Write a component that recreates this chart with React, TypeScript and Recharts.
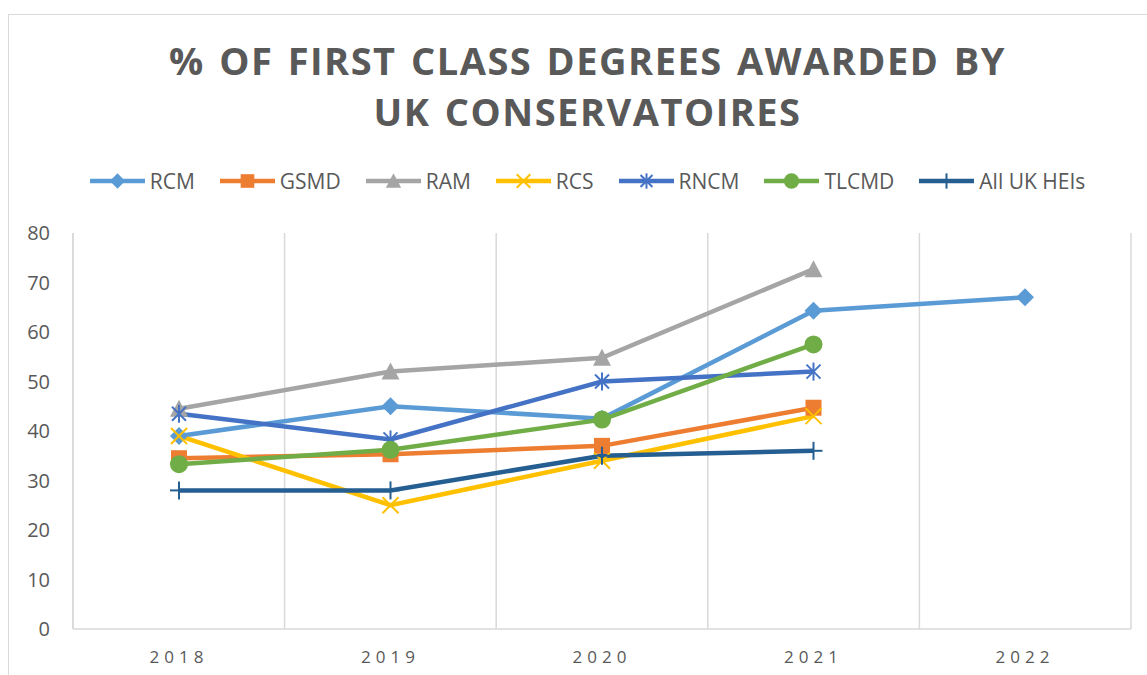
import React from 'react';
import { LineChart, Line, XAxis, YAxis, CartesianGrid, Legend } from 'recharts';

const years = ['2018', '2019', '2020', '2021', '2022'];
const rcm = [39, 45, 42.5, 64.3, 67];
const gsmd = [34.5, 35.3, 37, 44.7, null];
const ram = [44.5, 52, 54.8, 72.7, null];
const rcs = [39, 25, 34, 43, null];
const rncm = [43.5, 38.3, 50, 52, null];
const tlcmd = [33.3, 36.2, 42.3, 57.5, null];
const allUk = [28, 28, 35, 36, null];
const yTicks = [0, 10, 20, 30, 40, 50, 60, 70, 80];

const FONT = '"Open Sans", sans-serif';
const TEXT = '#595959';
const GRID = '#D9D9D9';

type Shape = 'diamond' | 'square' | 'triangle' | 'x' | 'star' | 'circle' | 'plus';

const series: { key: string; name: string; color: string; shape: Shape; values: (number | null)[] }[] = [
  { key: 'rcm', name: 'RCM', color: '#5B9BD5', shape: 'diamond', values: rcm },
  { key: 'gsmd', name: 'GSMD', color: '#ED7D31', shape: 'square', values: gsmd },
  { key: 'ram', name: 'RAM', color: '#A5A5A5', shape: 'triangle', values: ram },
  { key: 'rcs', name: 'RCS', color: '#FFC000', shape: 'x', values: rcs },
  { key: 'rncm', name: 'RNCM', color: '#4472C4', shape: 'star', values: rncm },
  { key: 'tlcmd', name: 'TLCMD', color: '#70AD47', shape: 'circle', values: tlcmd },
  { key: 'allUk', name: 'All UK HEIs', color: '#255E91', shape: 'plus', values: allUk },
];

const data = years.map((year, i) => {
  const row: Record<string, string | number | null> = { year };
  series.forEach((s) => {
    row[s.key] = s.values[i];
  });
  return row;
});

function Marker({ cx, cy, shape, color, k = 1 }: { cx: number; cy: number; shape: Shape; color: string; k?: number }) {
  const a = 9 * k;
  switch (shape) {
    case 'diamond':
      return <polygon points={`${cx},${cy - a} ${cx + a},${cy} ${cx},${cy + a} ${cx - a},${cy}`} fill={color} />;
    case 'square':
      return <rect x={cx - 8 * k} y={cy - 8 * k} width={16 * k} height={16 * k} fill={color} />;
    case 'triangle':
      return <polygon points={`${cx},${cy - a} ${cx + a},${cy + 8 * k} ${cx - a},${cy + 8 * k}`} fill={color} />;
    case 'x':
      return (
        <g stroke={color} strokeWidth={2}>
          <line x1={cx - 8 * k} y1={cy - 8 * k} x2={cx + 8 * k} y2={cy + 8 * k} />
          <line x1={cx - 8 * k} y1={cy + 8 * k} x2={cx + 8 * k} y2={cy - 8 * k} />
        </g>
      );
    case 'star':
      return (
        <g stroke={color} strokeWidth={2}>
          <line x1={cx - 7 * k} y1={cy - 7 * k} x2={cx + 7 * k} y2={cy + 7 * k} />
          <line x1={cx - 7 * k} y1={cy + 7 * k} x2={cx + 7 * k} y2={cy - 7 * k} />
          <line x1={cx} y1={cy - a} x2={cx} y2={cy + a} />
        </g>
      );
    case 'circle':
      return <circle cx={cx} cy={cy} r={a} fill={color} />;
    case 'plus':
      return (
        <g stroke={color} strokeWidth={2}>
          <line x1={cx} y1={cy - a} x2={cx} y2={cy + a} />
          <line x1={cx - a} y1={cy} x2={cx + a} y2={cy} />
        </g>
      );
  }
  return null;
}

const makeDot = (shape: Shape, color: string) => (props: any) => {
  const { cx, cy, index } = props;
  if (cx == null || cy == null || props.value == null) return <g key={`d-${index}`} />;
  return (
    <g key={`d-${index}`}>
      <Marker cx={cx} cy={cy} shape={shape} color={color} />
    </g>
  );
};

const LegendContent = () => (
  <div
    style={{
      height: 30,
      display: 'flex',
      justifyContent: 'center',
      alignItems: 'center',
      gap: 25,
      paddingLeft: 19,
      fontFamily: FONT,
      fontSize: 21,
      color: TEXT,
    }}
  >
    {series.map((s) => (
      <div key={s.key} style={{ display: 'flex', alignItems: 'center' }}>
        <svg width={55} height={22} style={{ marginRight: 5 }}>
          <line x1={0} y1={11} x2={55} y2={11} stroke={s.color} strokeWidth={4.5} />
          <Marker cx={27.5} cy={11} shape={s.shape} color={s.color} k={0.85} />
        </svg>
        <span>{s.name}</span>
      </div>
    ))}
  </div>
);

const App: React.FC = () => {
  return (
    <div style={{ position: 'relative', paddingTop: 14, paddingLeft: 8, width: 1139 }}>
      <style>{'body { margin: 0; }'}</style>
      <div style={{ borderTop: `1px solid ${GRID}`, borderLeft: `1px solid ${GRID}`, width: 1138 }}>
        <LineChart
          width={1138}
          height={660}
          data={data}
          margin={{ top: 188, right: 16, bottom: 16, left: 14 }}
        >
          <CartesianGrid
            horizontal={false}
            stroke={GRID}
            strokeWidth={1.5}
            verticalCoordinatesGenerator={({ offset }: any) =>
              years.concat('end').map((_, i) => offset.left + (i * offset.width) / years.length)
            }
          />
          <XAxis
            dataKey="year"
            padding={{ left: 106, right: 106 }}
            tickLine={false}
            tickSize={0}
            tickMargin={22}
            axisLine={{ stroke: GRID, strokeWidth: 1.5 }}
            tick={{ fill: TEXT, fontSize: 17, fontFamily: FONT, letterSpacing: 5 }}
          />
          <YAxis
            width={50}
            domain={[0, 80]}
            ticks={yTicks}
            tickLine={false}
            tickSize={0}
            tickMargin={23}
            axisLine={{ stroke: GRID, strokeWidth: 1.5 }}
            tick={{ fill: TEXT, fontSize: 20, fontFamily: FONT }}
          />
          <Legend
            verticalAlign="top"
            content={<LegendContent />}
            wrapperStyle={{ top: 151, left: 0, width: 1138 }}
          />
          {series.map((s) => (
            <Line
              key={s.key}
              dataKey={s.key}
              name={s.name}
              stroke={s.color}
              strokeWidth={4.5}
              type="linear"
              dot={makeDot(s.shape, s.color)}
              activeDot={false}
              isAnimationActive={false}
            />
          ))}
        </LineChart>
      </div>
      <div
        style={{
          position: 'absolute',
          top: 35,
          left: 28,
          right: 0,
          textAlign: 'center',
          fontFamily: FONT,
          fontWeight: 700,
          fontSize: 38,
          lineHeight: '51px',
          letterSpacing: 1.5,
          wordSpacing: 3,
          color: TEXT,
        }}
      >
        <div>% OF FIRST CLASS DEGREES AWARDED BY</div>
        <div>UK CONSERVATOIRES</div>
      </div>
    </div>
  );
};

export default App;
